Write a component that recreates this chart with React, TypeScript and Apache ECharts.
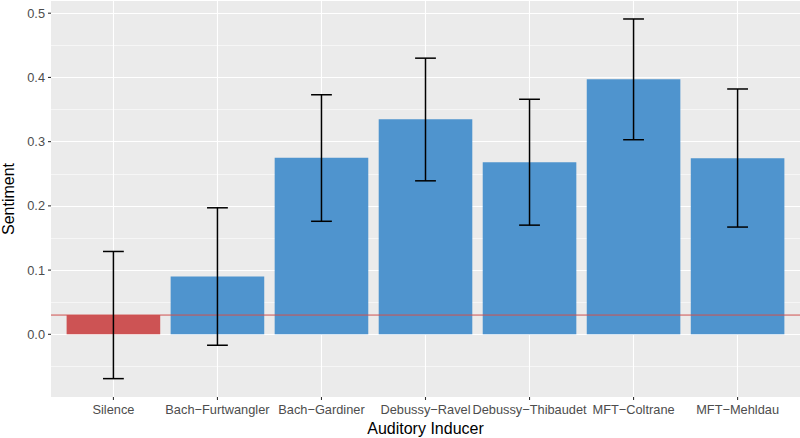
import React, { useEffect, useRef } from "react";
import * as echarts from "echarts";

const categories = [
  "Silence",
  "Bach−Furtwangler",
  "Bach−Gardiner",
  "Debussy−Ravel",
  "Debussy−Thibaudet",
  "MFT−Coltrane",
  "MFT−Mehldau",
];
const means = [0.03, 0.09, 0.275, 0.335, 0.268, 0.397, 0.274];
const lowers = [-0.069, -0.017, 0.176, 0.239, 0.17, 0.303, 0.167];
const uppers = [0.129, 0.197, 0.373, 0.43, 0.366, 0.491, 0.382];
const baseline = [0.03];
const yMajorTicks = [0, 0.1, 0.2, 0.3, 0.4, 0.5];
const yMinorTicks = [-0.05, 0.05, 0.15, 0.25, 0.35, 0.45];

const FONT = "'Liberation Sans', Arial, Helvetica, sans-serif";
const BLUE = "#4F94CE";
const RED = "#CD5354";
const TICK = "#333333";

export default function App() {
  const ref = useRef<HTMLDivElement>(null);
  useEffect(() => {
    if (!ref.current) return;
    const chart = echarts.init(ref.current, null, { renderer: "svg" });
    const xIdx = categories.map((_, i) => i);
    const option: any = {
      animation: false,
      backgroundColor: "#FFFFFF",
      grid: {
        left: 51,
        right: 0,
        top: 1,
        height: 396,
        show: true,
        backgroundColor: "#EBEBEB",
        borderWidth: 0,
        containLabel: false,
        outerBoundsMode: "none",
      },
      xAxis: {
        type: "value",
        min: -0.6,
        max: 6.6,
        axisLine: { show: false },
        splitLine: { show: false },
        axisTick: { show: false },
        axisLabel: {
          customValues: xIdx,
          formatter: (v: number) => categories[Math.round(v)] ?? "",
          fontFamily: FONT,
          fontSize: 12.8,
          color: "#4D4D4D",
          margin: 6,
        },
        name: "Auditory Inducer",
        nameLocation: "middle",
        nameGap: 20,
        nameTextStyle: { fontFamily: FONT, fontSize: 16, color: "#000000" },
      },
      yAxis: {
        type: "value",
        min: -0.0976,
        max: 0.519,
        axisLine: { show: false },
        splitLine: { show: false },
        axisTick: { show: false },
        axisLabel: {
          customValues: yMajorTicks,
          formatter: (v: number) => v.toFixed(1),
          fontFamily: FONT,
          fontSize: 12.8,
          color: "#4D4D4D",
          margin: 6,
        },
        name: "Sentiment",
        nameLocation: "middle",
        nameGap: 31,
        nameTextStyle: { fontFamily: FONT, fontSize: 16, color: "#000000" },
      },
      series: [
        {
          type: "line",
          data: [],
          z: 1,
          silent: true,
          markLine: {
            z: 1,
            silent: true,
            symbol: ["none", "none"],
            label: { show: false },
            animation: false,
            data: [
              ...yMinorTicks.map((v) => ({
                yAxis: v,
                lineStyle: { color: "#FFFFFF", width: 0.55, type: "solid" },
              })),
              ...yMajorTicks.map((v) => ({
                yAxis: v,
                lineStyle: { color: "#FFFFFF", width: 1.1, type: "solid" },
              })),
              ...xIdx.map((v) => ({
                xAxis: v,
                lineStyle: { color: "#FFFFFF", width: 1.1, type: "solid" },
              })),
            ],
          },
        },
        {
          type: "bar",
          z: 2,
          barWidth: 93.6,
          data: means.map((v, i) => ({
            value: [i, v],
            itemStyle: { color: i === 0 ? RED : BLUE },
          })),
        },
        {
          type: "custom",
          z: 3,
          silent: true,
          data: baseline.map((v) => [0, v]),
          encode: { x: 0, y: 1 },
          renderItem: (params: any, api: any) => {
            const cs = params.coordSys;
            const p = api.coord([0, api.value(1)]);
            return {
              type: "line",
              shape: { x1: cs.x, y1: p[1], x2: cs.x + cs.width, y2: p[1] },
              style: { stroke: "#D0504F", lineWidth: 1 },
            };
          },
        },
        {
          type: "custom",
          z: 4,
          data: lowers.map((l, i) => [i, l, uppers[i]]),
          encode: { x: 0, y: [1, 2] },
          renderItem: (params: any, api: any) => {
            const x = api.value(0);
            const lo = api.coord([x, api.value(1)]);
            const hi = api.coord([x, api.value(2)]);
            const hw = api.size([0.1, 0])[0];
            const style = { stroke: "#000000", lineWidth: 1.5 };
            return {
              type: "group",
              children: [
                { type: "line", shape: { x1: lo[0], y1: lo[1], x2: hi[0], y2: hi[1] }, style },
                { type: "line", shape: { x1: lo[0] - hw, y1: lo[1], x2: lo[0] + hw, y2: lo[1] }, style },
                { type: "line", shape: { x1: hi[0] - hw, y1: hi[1], x2: hi[0] + hw, y2: hi[1] }, style },
              ],
            };
          },
        },
        {
          type: "custom",
          z: 5,
          silent: true,
          clip: false,
          data: xIdx.map((v) => [v, 0]),
          encode: { x: 0, y: 1 },
          renderItem: (params: any, api: any) => {
            const cs = params.coordSys;
            const p = api.coord([api.value(0), 0]);
            const yb = cs.y + cs.height;
            return {
              type: "line",
              shape: { x1: p[0], y1: yb, x2: p[0], y2: yb + 3 },
              style: { stroke: TICK, lineWidth: 1.1 },
            };
          },
        },
        {
          type: "custom",
          z: 5,
          silent: true,
          clip: false,
          data: yMajorTicks.map((v) => [0, v]),
          encode: { x: 0, y: 1 },
          renderItem: (params: any, api: any) => {
            const cs = params.coordSys;
            const p = api.coord([0, api.value(1)]);
            return {
              type: "line",
              shape: { x1: cs.x - 3, y1: p[1], x2: cs.x, y2: p[1] },
              style: { stroke: TICK, lineWidth: 1.1 },
            };
          },
        },
      ],
    };
    chart.setOption(option);
    return () => chart.dispose();
  }, []);
  return (
    <div
      ref={ref}
      style={{ position: "fixed", left: 0, top: 0, width: 800, height: 438 }}
    />
  );
}
